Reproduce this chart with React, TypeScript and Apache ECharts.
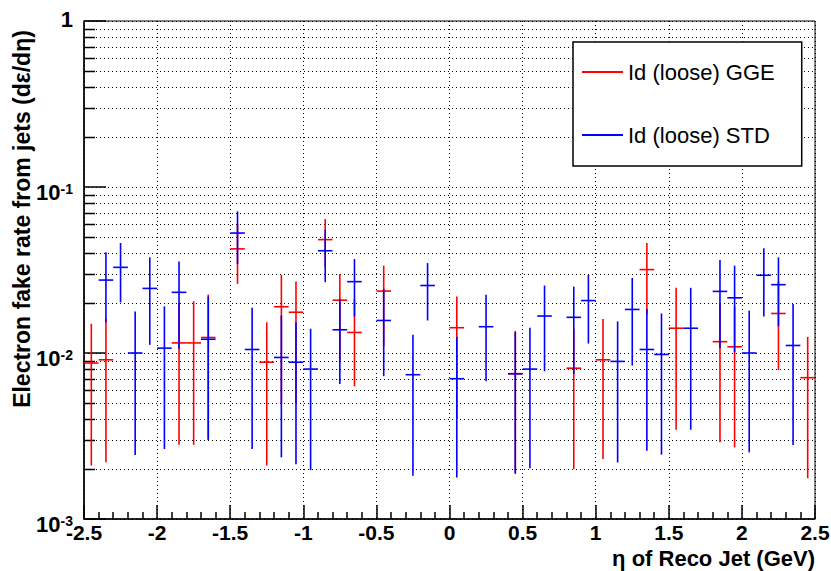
import React, { useEffect, useRef } from "react";
import * as echarts from "echarts";

// ---- axis definition ----
const X_MIN = -2.5;
const X_MAX = 2.5;
const X_INTERVAL = 0.5;
const Y_MIN = 0.001;
const Y_MAX = 1;
const BIN_WIDTH = 0.1;
const Y_MINOR_TICKS = [
  0.002, 0.003, 0.004, 0.005, 0.006, 0.007, 0.008, 0.009,
  0.02, 0.03, 0.04, 0.05, 0.06, 0.07, 0.08, 0.09,
  0.2, 0.3, 0.4, 0.5, 0.6, 0.7, 0.8, 0.9,
];

// ---- Id (loose) GGE (red) ----
const ggeEta = [-2.45, -2.35, -1.85, -1.75, -1.65, -1.45, -1.25, -1.15, -1.05, -0.85, -0.75, -0.65, -0.45, 0.05, 0.45, 0.85, 1.05, 1.35, 1.55, 1.85, 1.95, 2.25, 2.45];
const ggeRate = [0.0087, 0.0091, 0.0115, 0.0115, 0.0124, 0.0424, 0.0088, 0.019, 0.0176, 0.0482, 0.0208, 0.0133, 0.0236, 0.0142, 0.0075, 0.0081, 0.0091, 0.0318, 0.0141, 0.0117, 0.0109, 0.0173, 0.0071];
const ggeLow = [0.0021, 0.0022, 0.0028, 0.0028, 0.003, 0.0261, 0.0021, 0.005, 0.005, 0.033, 0.009, 0.0063, 0.011, 0.004, 0.0019, 0.002, 0.0023, 0.017, 0.00345, 0.0029, 0.0027, 0.0079, 0.00176];
const ggeHigh = [0.015, 0.016, 0.02, 0.0205, 0.0225, 0.06, 0.0153, 0.0295, 0.027, 0.0641, 0.0299, 0.021, 0.0336, 0.0219, 0.0136, 0.014, 0.016, 0.046, 0.0247, 0.02, 0.019, 0.027, 0.0125];

// ---- Id (loose) STD (blue) ----
const stdEta = [-2.35, -2.25, -2.15, -2.05, -1.95, -1.85, -1.65, -1.45, -1.35, -1.15, -1.05, -0.95, -0.85, -0.75, -0.65, -0.45, -0.25, -0.15, 0.05, 0.25, 0.45, 0.55, 0.65, 0.85, 0.95, 1.15, 1.25, 1.35, 1.45, 1.65, 1.85, 1.95, 2.05, 2.15, 2.25, 2.35];
const stdRate = [0.0275, 0.0328, 0.01, 0.0245, 0.0107, 0.0232, 0.0121, 0.0528, 0.0105, 0.0094, 0.0088, 0.008, 0.0413, 0.0138, 0.0269, 0.0157, 0.0074, 0.0255, 0.007, 0.0144, 0.0075, 0.008, 0.0167, 0.0164, 0.0207, 0.0089, 0.0183, 0.0105, 0.0098, 0.0141, 0.0235, 0.0215, 0.01, 0.0294, 0.0258, 0.0111];
const stdLow = [0.0153, 0.0202, 0.00243, 0.0112, 0.00264, 0.0106, 0.003, 0.0343, 0.00264, 0.00235, 0.00214, 0.00197, 0.0267, 0.0065, 0.0166, 0.00725, 0.00182, 0.0157, 0.00178, 0.00675, 0.00187, 0.00202, 0.00776, 0.00746, 0.0114, 0.00219, 0.0084, 0.00258, 0.00244, 0.00345, 0.0107, 0.0101, 0.00252, 0.0166, 0.0145, 0.00279];
const stdHigh = [0.0405, 0.046, 0.0178, 0.0377, 0.0191, 0.0356, 0.0219, 0.0713, 0.0187, 0.0168, 0.0153, 0.014, 0.0553, 0.0211, 0.0368, 0.0243, 0.0129, 0.0348, 0.0125, 0.0224, 0.0133, 0.0142, 0.0255, 0.0251, 0.0295, 0.0155, 0.0283, 0.0184, 0.0173, 0.0247, 0.0363, 0.0336, 0.018, 0.0428, 0.0377, 0.0197];

const GGE_NAME = "Id (loose) GGE";
const STD_NAME = "Id (loose) STD";
const X_TITLE = "η of Reco Jet (GeV)";
const Y_TITLE = "Electron fake rate from jets (dε/dη)";
const FONT = "'Liberation Sans', Arial, Helvetica, sans-serif";

function errorBarSeries(name: string, color: string, eta: number[], rate: number[], low: number[], high: number[], z: number) {
  return {
    name,
    type: "custom",
    z,
    itemStyle: { color },
    encode: { x: 0, y: 1 },
    data: eta.map((e, i) => [e, rate[i], low[i], high[i]]),
    renderItem: (params: any, api: any) => {
      const x = api.value(0);
      const v = api.value(1);
      const lo = api.value(2);
      const hi = api.value(3);
      const c = api.coord([x, v]);
      const pLo = api.coord([x, lo]);
      const pHi = api.coord([x, hi]);
      const left = api.coord([x - BIN_WIDTH / 2, v])[0];
      const right = api.coord([x + BIN_WIDTH / 2, v])[0];
      const style = { stroke: color, lineWidth: 1.6 };
      return {
        type: "group",
        children: [
          { type: "line", shape: { x1: c[0], y1: pLo[1], x2: c[0], y2: pHi[1] }, style },
          { type: "line", shape: { x1: left, y1: c[1], x2: right, y2: c[1] }, style },
        ],
      };
    },
  };
}

export default function App() {
  const ref = useRef<HTMLDivElement>(null);

  useEffect(() => {
    if (!ref.current) return;
    const chart = echarts.init(ref.current, undefined, { renderer: "svg" });
    chart.setOption({
      animation: false,
      backgroundColor: "#ffffff",
      textStyle: { fontFamily: FONT },
      grid: {
        left: 84,
        right: 16,
        top: 21,
        bottom: 52,
        containLabel: false,
        outerBoundsMode: "none",
        show: true,
        borderColor: "#000",
        borderWidth: 1,
        backgroundColor: "transparent",
      },
      legend: {
        data: [GGE_NAME, STD_NAME],
        orient: "vertical",
        left: 573,
        top: 42,
        icon: "rect",
        itemWidth: 41,
        itemHeight: 2,
        itemGap: 41,
        padding: [19, 27, 20, 9],
        backgroundColor: "#fff",
        borderColor: "#000",
        borderWidth: 1.5,
        textStyle: { fontFamily: FONT, fontSize: 22, lineHeight: 22, color: "#000" },
      },
      xAxis: {
        type: "value",
        min: X_MIN,
        max: X_MAX,
        interval: X_INTERVAL,
        axisLine: { show: true, onZero: false, lineStyle: { color: "#000", width: 1.5 } },
        axisTick: { show: true, inside: true, length: 14, lineStyle: { color: "#000", width: 1.5 } },
        minorTick: { show: true, splitNumber: 5, length: 7, lineStyle: { color: "#000", width: 1.5 } },
        axisLabel: {
          margin: 4,
          fontFamily: FONT,
          fontSize: 21,
          lineHeight: 19,
          fontWeight: "bold",
          color: "#000",
          showMinLabel: true,
          showMaxLabel: true,
        },
        splitLine: { show: true, lineStyle: { color: "#000", width: 1, type: [1, 3] } },
      },
      yAxis: {
        type: "log",
        logBase: 10,
        min: Y_MIN,
        max: Y_MAX,
        axisLine: { show: true, onZero: false, lineStyle: { color: "#000", width: 1.5 } },
        axisTick: { show: true, inside: true, length: 22, lineStyle: { color: "#000", width: 1.5 } },
        axisLabel: {
          margin: 11,
          color: "#000",
          fontFamily: FONT,
          formatter: (v: number) => {
            const e = Math.round(Math.log10(v));
            if (e === 0) return "{one|1}";
            return `{b|10}{s|${e}}`;
          },
          rich: {
            one: { fontFamily: FONT, fontSize: 22, fontWeight: "bold", color: "#000", padding: [0, 0, 3, 0] },
            b: { fontFamily: FONT, fontSize: 22, fontWeight: "bold", color: "#000", lineHeight: 22, padding: [10, 0, 0, 0] },
            s: { fontFamily: FONT, fontSize: 14, fontWeight: "bold", color: "#000", lineHeight: 14, verticalAlign: "top", padding: [6, 0, 0, 0] },
          },
        },
        splitLine: { show: true, lineStyle: { color: "#000", width: 1, type: [1, 3] } },
      },
      graphic: [
        {
          type: "text",
          x: 22,
          y: 219,
          rotation: Math.PI / 2,
          style: {
            text: Y_TITLE,
            font: `bold 23px ${FONT}`,
            fill: "#000",
            align: "center",
            verticalAlign: "middle",
          },
        },
        {
          type: "text",
          x: 815,
          y: 558,
          style: {
            text: X_TITLE,
            font: `bold 22px ${FONT}`,
            fill: "#000",
            align: "right",
            verticalAlign: "middle",
          },
        },
      ],
      series: [
        {
          name: "minor grid",
          type: "custom",
          z: 1,
          silent: true,
          encode: { x: 0, y: 1 },
          data: Y_MINOR_TICKS.map((v) => [X_MIN, v]),
          renderItem: (params: any, api: any) => {
            const cs = params.coordSys;
            const y = Math.round(api.coord([X_MIN, api.value(1)])[1]) + 0.5;
            return {
              type: "group",
              children: [
                {
                  type: "line",
                  shape: { x1: cs.x, y1: y, x2: cs.x + cs.width, y2: y },
                  style: { stroke: "#000", lineWidth: 1, lineDash: [1, 3] },
                },
                {
                  type: "line",
                  shape: { x1: cs.x, y1: y, x2: cs.x + 11, y2: y },
                  style: { stroke: "#000", lineWidth: 1.5 },
                },
              ],
            };
          },
        },
        errorBarSeries(GGE_NAME, "#ff0000", ggeEta, ggeRate, ggeLow, ggeHigh, 3),
        errorBarSeries(STD_NAME, "#0000ff", stdEta, stdRate, stdLow, stdHigh, 4),
      ],
    });
    return () => chart.dispose();
  }, []);

  return (
    <div
      ref={ref}
      style={{ position: "fixed", left: 0, top: 0, width: 831, height: 571, background: "#fff" }}
    />
  );
}
